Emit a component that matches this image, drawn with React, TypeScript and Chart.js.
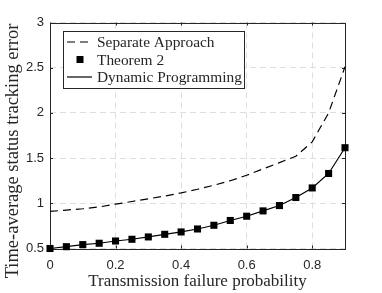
import React, { useEffect, useRef } from "react";
import { Chart, registerables } from "chart.js";

Chart.register(...registerables);

const failureProb = [0, 0.05, 0.1, 0.15, 0.2, 0.25, 0.3, 0.35, 0.4, 0.45, 0.5, 0.55, 0.6, 0.65, 0.7, 0.75, 0.8, 0.85, 0.9];
const separateApproach = [0.91, 0.925, 0.94, 0.96, 0.99, 1.02, 1.05, 1.08, 1.115, 1.155, 1.2, 1.25, 1.31, 1.38, 1.45, 1.52, 1.68, 2.0, 2.51];
const theorem2 = [0.5, 0.52, 0.543, 0.558, 0.583, 0.602, 0.628, 0.657, 0.683, 0.716, 0.757, 0.81, 0.857, 0.916, 0.975, 1.064, 1.17, 1.33, 1.615];
const dynamicProgramming = [0.5, 0.52, 0.543, 0.558, 0.583, 0.602, 0.628, 0.657, 0.683, 0.716, 0.757, 0.81, 0.857, 0.916, 0.975, 1.064, 1.17, 1.33, 1.615];
const seriesLabels = ["Separate Approach", "Theorem 2", "Dynamic Programming"];
const xTitle = "Transmission failure probability";
const yTitle = "Time-average status tracking error";

const TEXT = "#262626";
const SERIF = "'Liberation Serif', 'Times New Roman', serif";
const SANS = "'Liberation Sans', Arial, sans-serif";

const toPoints = (ys: number[]) => failureProb.map((x, i) => ({ x, y: ys[i] }));

const boxPlugin = {
  id: "boxPlugin",
  beforeDatasetsDraw(chart: any) {
    const { ctx, chartArea, scales } = chart;
    const { left, right, top, bottom } = chartArea;
    ctx.save();
    ctx.strokeStyle = TEXT;
    ctx.lineWidth = 1;
    ctx.setLineDash([]);
    const line = (x1: number, y1: number, x2: number, y2: number) => {
      ctx.beginPath();
      ctx.moveTo(x1, y1);
      ctx.lineTo(x2, y2);
      ctx.stroke();
    };
    const tl = 3;
    scales.x.ticks.forEach((t: any) => {
      const px = Math.round(scales.x.getPixelForValue(t.value)) + 0.5;
      line(px, bottom, px, bottom - tl);
      line(px, top, px, top + tl);
    });
    scales.y.ticks.forEach((t: any) => {
      const py = Math.round(scales.y.getPixelForValue(t.value)) + 0.5;
      line(left, py, left + tl, py);
      line(right, py, right - tl, py);
    });
    ctx.strokeRect(Math.round(left) + 0.5, Math.round(top) + 0.5, Math.round(right - left), Math.round(bottom - top));
    // y-axis title
    ctx.translate(13.5, 151);
    ctx.rotate(-Math.PI / 2);
    ctx.font = `18.5px ${SERIF}`;
    ctx.fillStyle = TEXT;
    ctx.textAlign = "center";
    ctx.textBaseline = "middle";
    ctx.fillText(yTitle, 0, 0);
    ctx.restore();
  },
};

const legendPlugin = {
  id: "legendPlugin",
  afterDatasetsDraw(chart: any) {
    const { ctx } = chart;
    const ds = chart.data.datasets;
    const bx = 63.5, by = 31.5, bw = 181, bh = 57;
    ctx.save();
    ctx.fillStyle = "#ffffff";
    ctx.fillRect(bx, by, bw, bh);
    ctx.strokeStyle = TEXT;
    ctx.lineWidth = 1;
    ctx.setLineDash([]);
    ctx.strokeRect(bx, by, bw, bh);
    const rows = [42, 59.5, 77];
    ctx.font = `15.4px ${SERIF}`;
    ctx.textBaseline = "middle";
    ctx.textAlign = "left";
    ds.forEach((d: any, i: number) => {
      const y = rows[i];
      ctx.strokeStyle = "#000";
      ctx.fillStyle = "#000";
      if (i === 0) {
        ctx.lineWidth = 1.2;
        ctx.setLineDash([8, 5]);
        ctx.beginPath();
        ctx.moveTo(67, y);
        ctx.lineTo(92, y);
        ctx.stroke();
        ctx.setLineDash([]);
      } else if (i === 1) {
        ctx.fillRect(76.5, y - 3.5, 7, 7);
      } else {
        ctx.lineWidth = 1.2;
        ctx.beginPath();
        ctx.moveTo(67, y);
        ctx.lineTo(92, y);
        ctx.stroke();
      }
      ctx.fillStyle = TEXT;
      ctx.fillText(d.label, 97, y + 1);
    });
    ctx.restore();
  },
};

export default function App() {
  const ref = useRef<HTMLCanvasElement | null>(null);
  useEffect(() => {
    if (!ref.current) return;
    const chart = new Chart(ref.current, {
      type: "line",
      data: {
        datasets: [
          {
            label: seriesLabels[0],
            data: toPoints(separateApproach),
            borderColor: "#000",
            borderWidth: 1.2,
            borderDash: [8, 5],
            pointRadius: 0,
            fill: false,
            tension: 0,
            clip: false as any,
          },
          {
            label: seriesLabels[1],
            data: toPoints(theorem2),
            showLine: false,
            borderColor: "#000",
            backgroundColor: "#000",
            pointStyle: "rect",
            pointRadius: 5,
            pointBorderWidth: 0,
            clip: false as any,
          },
          {
            label: seriesLabels[2],
            data: toPoints(dynamicProgramming),
            borderColor: "#000",
            borderWidth: 1.2,
            pointRadius: 0,
            fill: false,
            tension: 0,
            clip: false as any,
          },
        ],
      },
      options: {
        animation: false,
        responsive: false,
        layout: { padding: { left: 0, right: 37, top: 22.5, bottom: 0 } },
        plugins: { legend: { display: false }, tooltip: { enabled: false } },
        scales: {
          x: {
            type: "linear",
            min: 0,
            max: 0.9,
            afterFit: (s: any) => {
              s.height = 44.5;
            },
            ticks: {
              stepSize: 0.2,
              includeBounds: false,
              padding: 9,
              color: TEXT,
              font: { family: SANS, size: 13 },
              maxRotation: 0,
              callback: (v: any) => String(Math.round(Number(v) * 10) / 10),
            },
            grid: { color: "#dedede", lineWidth: 1, drawTicks: false },
            border: { display: false, dash: [6, 4] },
            title: {
              display: true,
              text: xTitle,
              color: TEXT,
              font: { family: SERIF, size: 17 },
              padding: { top: 0, bottom: 1 },
            },
          },
          y: {
            min: 0.5,
            max: 3,
            afterFit: (s: any) => {
              s.width = 50;
            },
            ticks: {
              stepSize: 0.5,
              padding: 6,
              color: TEXT,
              font: { family: SANS, size: 13 },
              callback: (v: any) => String(v),
            },
            grid: { color: "#dedede", lineWidth: 1, drawTicks: false },
            border: { display: false, dash: [6, 4] },
            title: { display: false },
          },
        },
      },
      plugins: [boxPlugin, legendPlugin],
    });
    return () => chart.destroy();
  }, []);
  return (
    <div style={{ position: "fixed", left: 0, top: 0, width: 382, height: 293, background: "#fff" }}>
      <canvas ref={ref} width={382} height={293} style={{ display: "block" }} />
    </div>
  );
}
